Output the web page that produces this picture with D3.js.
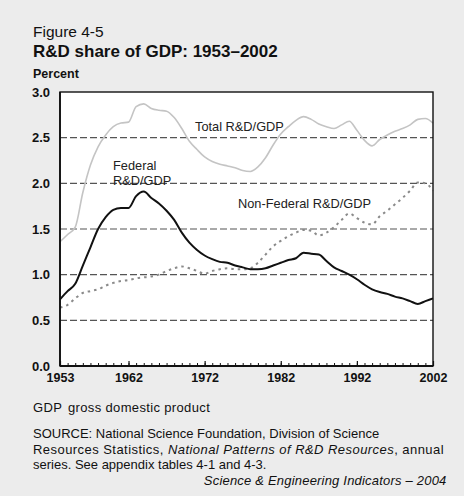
<!DOCTYPE html>
<html>
<head>
<meta charset="utf-8">
<script src="https://cdn.jsdelivr.net/npm/d3@7"></script>
<style>
  html, body { margin: 0; padding: 0; background: #ececec; }
  svg { display: block; font-family: "Liberation Sans", Arial, Helvetica, sans-serif; }
</style>
</head>
<body>
<svg id="chart" width="464" height="496"></svg>
<script>
// Annual R&D shares of GDP, percent
const years = d3.range(1953, 2003);
const totalRD = [1.36, 1.44, 1.52, 1.90, 2.20, 2.40, 2.53, 2.62, 2.66, 2.67,
                 2.84, 2.87, 2.82, 2.80, 2.79, 2.72, 2.60, 2.46, 2.37, 2.29,
                 2.24, 2.21, 2.19, 2.17, 2.14, 2.13, 2.18, 2.28, 2.42, 2.54,
                 2.62, 2.69, 2.73, 2.70, 2.65, 2.62, 2.60, 2.64, 2.68, 2.58,
                 2.47, 2.41, 2.48, 2.53, 2.57, 2.60, 2.64, 2.70, 2.71, 2.66];
const federalRD = [0.73, 0.82, 0.90, 1.10, 1.30, 1.50, 1.63, 1.71, 1.73, 1.73,
                   1.86, 1.91, 1.84, 1.78, 1.70, 1.60, 1.46, 1.35, 1.27, 1.21,
                   1.17, 1.14, 1.13, 1.10, 1.08, 1.06, 1.06, 1.07, 1.10, 1.13,
                   1.16, 1.18, 1.24, 1.23, 1.22, 1.15, 1.08, 1.04, 1.00, 0.95,
                   0.89, 0.84, 0.81, 0.79, 0.76, 0.74, 0.71, 0.68, 0.71, 0.74];
const nonFederalRD = [0.64, 0.67, 0.74, 0.80, 0.82, 0.84, 0.88, 0.91, 0.93, 0.94,
                      0.96, 0.97, 0.98, 1.00, 1.04, 1.07, 1.09, 1.07, 1.04, 1.01,
                      1.04, 1.06, 1.07, 1.06, 1.06, 1.07, 1.13, 1.22, 1.31, 1.37,
                      1.42, 1.46, 1.49, 1.48, 1.43, 1.46, 1.52, 1.60, 1.67, 1.62,
                      1.57, 1.55, 1.64, 1.70, 1.77, 1.84, 1.92, 2.01, 2.00, 1.92];
const xTickYears = [1953, 1962, 1972, 1982, 1992, 2002];
const yTicks = [0, 0.5, 1.0, 1.5, 2.0, 2.5, 3.0];
const gridValues = [0.5, 1.0, 1.5, 2.0, 2.5];

const svg = d3.select("#chart");
const plot = { left: 60, right: 433, top: 92, bottom: 366 };

const x = d3.scaleLinear().domain([1953, 2002]).range([plot.left, plot.right]);
const y = d3.scaleLinear().domain([0, 3]).range([plot.bottom, plot.top]);

// Headings
svg.append("text").attr("x", 33).attr("y", 37)
  .style("font-size", "15.5px").attr("fill", "#111").text("Figure 4-5");
svg.append("text").attr("x", 33).attr("y", 57)
  .style("font-size", "17px").style("font-weight", "bold").attr("fill", "#111")
  .text("R&D share of GDP: 1953–2002");
svg.append("text").attr("x", 33).attr("y", 78)
  .style("font-size", "12.5px").style("font-weight", "bold").attr("fill", "#111")
  .text("Percent");

// Plot background
svg.append("rect")
  .attr("x", plot.left).attr("y", plot.top)
  .attr("width", plot.right - plot.left).attr("height", plot.bottom - plot.top)
  .attr("fill", "#fff");

// Dashed gridlines
svg.append("g").selectAll("line").data(gridValues).join("line")
  .attr("x1", plot.left).attr("x2", plot.right)
  .attr("y1", d => y(d)).attr("y2", d => y(d))
  .attr("stroke", "#555").attr("stroke-width", 1.1)
  .attr("stroke-dasharray", "7,3");

// Series
const line = values => d3.line()
  .x((d, i) => x(years[i]))
  .y(d => y(d))
  .curve(d3.curveMonotoneX)(values);

svg.append("path").attr("d", line(totalRD))
  .attr("fill", "none").attr("stroke", "#c4c4c4").attr("stroke-width", 1.6);
svg.append("path").attr("d", line(nonFederalRD))
  .attr("fill", "none").attr("stroke", "#8a8a8a").attr("stroke-width", 2)
  .attr("stroke-dasharray", "2.5,4");
svg.append("path").attr("d", line(federalRD))
  .attr("fill", "none").attr("stroke", "#111").attr("stroke-width", 2);

// Frame
svg.append("rect")
  .attr("x", plot.left).attr("y", plot.top)
  .attr("width", plot.right - plot.left).attr("height", plot.bottom - plot.top)
  .attr("fill", "none").attr("stroke", "#111").attr("stroke-width", 1.4);
svg.append("line")
  .attr("x1", plot.left).attr("x2", plot.right)
  .attr("y1", plot.bottom).attr("y2", plot.bottom)
  .attr("stroke", "#111").attr("stroke-width", 2);
svg.append("line")
  .attr("x1", plot.left).attr("x2", plot.left)
  .attr("y1", plot.top).attr("y2", plot.bottom)
  .attr("stroke", "#111").attr("stroke-width", 1.8);

// X axis: yearly minor ticks plus labelled decade ticks, pointing inward
const xMinor = svg.append("g").attr("transform", `translate(0,${plot.bottom})`)
  .call(d3.axisBottom(x).tickValues(years).tickSize(-3).tickFormat(""));
xMinor.select(".domain").remove();
xMinor.selectAll("line").attr("stroke", "#111").attr("stroke-width", 1);

const xMajor = svg.append("g").attr("transform", `translate(0,${plot.bottom})`)
  .call(d3.axisBottom(x).tickValues(xTickYears).tickSize(-5).tickPadding(7).tickFormat(d3.format("d")));
xMajor.select(".domain").remove();
xMajor.selectAll("line").attr("stroke", "#111").attr("stroke-width", 1.2);
xMajor.selectAll("text")
  .style("font-size", "12.5px").style("font-weight", "bold")
  .style("font-family", "'Liberation Sans', Arial, sans-serif").attr("fill", "#111");

// Y axis labels
const yAxis = svg.append("g").attr("transform", `translate(${plot.left},0)`)
  .call(d3.axisLeft(y).tickValues(yTicks).tickSize(0).tickPadding(10).tickFormat(d3.format(".1f")));
yAxis.select(".domain").remove();
yAxis.selectAll("text")
  .style("font-size", "13px").style("font-weight", "bold")
  .style("font-family", "'Liberation Sans', Arial, sans-serif").attr("fill", "#111");

// Series labels
const label = (tx, ty, str) => svg.append("text").attr("x", tx).attr("y", ty)
  .style("font-size", "12.8px").attr("fill", "#222").text(str);
label(195, 131, "Total R&D/GDP");
label(113, 170, "Federal");
label(113, 185, "R&D/GDP");
label(238, 207.5, "Non-Federal R&D/GDP");

// Notes and source
const note = svg.append("g").style("font-size", "13px").attr("fill", "#111");
const gdpNote = note.append("text").attr("x", 33).attr("y", 412)
  .style("letter-spacing", "0.35px");
gdpNote.append("tspan").text("GDP");
gdpNote.append("tspan").attr("x", 68).text("gross domestic product");

note.append("text").attr("x", 33).attr("y", 437.5)
  .text("SOURCE: National Science Foundation, Division of Science");
const src2 = note.append("text").attr("x", 33).attr("y", 453.5)
  .style("letter-spacing", "0.45px");
src2.append("tspan").text("Resources Statistics, ");
src2.append("tspan").style("font-style", "italic").text("National Patterns of R&D Resources");
src2.append("tspan").text(", annual");
note.append("text").attr("x", 33).attr("y", 468.5)
  .text("series. See appendix tables 4-1 and 4-3.");
note.append("text").attr("x", 446.5).attr("y", 485)
  .attr("text-anchor", "end").style("font-style", "italic")
  .style("letter-spacing", "0.2px")
  .text("Science & Engineering Indicators – 2004");
</script>
</body>
</html>
